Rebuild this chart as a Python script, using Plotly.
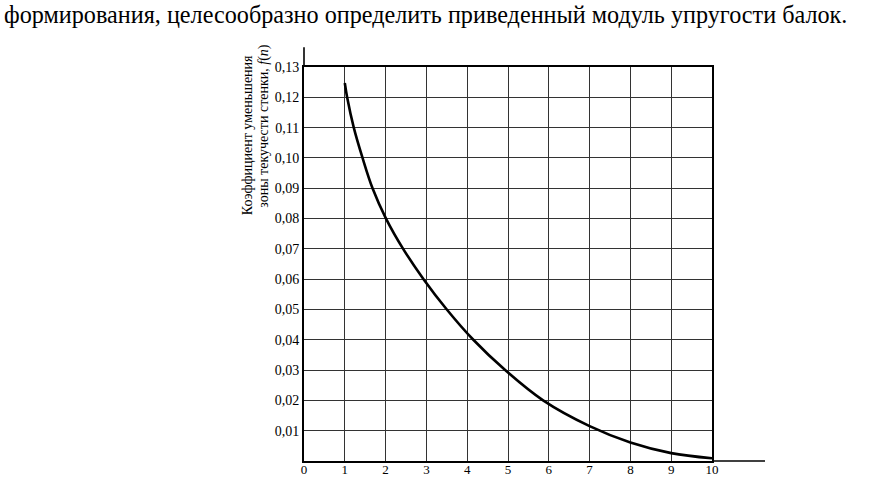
import plotly.graph_objects as go

# curve f(n) (points where it crosses the grid)
n_values = [1.0, 1.057, 1.22, 1.435, 1.68, 2.01, 2.43, 2.93, 3.5, 4.15, 4.93, 5.86, 7.0, 8.0, 9.0, 10.0]
f_values = [0.1247, 0.12, 0.11, 0.10, 0.09, 0.08, 0.07, 0.06, 0.05, 0.04, 0.03, 0.02,
            0.0115, 0.0061, 0.0026, 0.0009]

x_ticks = list(range(0, 11))
y_ticks = [0.01, 0.02, 0.03, 0.04, 0.05, 0.06, 0.07, 0.08, 0.09, 0.10, 0.11, 0.12, 0.13]
y_labels = ["0,01", "0,02", "0,03", "0,04", "0,05", "0,06", "0,07",
            "0,08", "0,09", "0,10", "0,11", "0,12", "0,13"]

header = "формирования, целесообразно определить приведенный модуль упругости балок."

font = "Liberation Serif, Times New Roman, serif"
grid_col = "#333333"

fig = go.Figure()

fig.add_trace(go.Scatter(
    x=n_values, y=f_values,
    mode="lines",
    line=dict(color="black", width=2.6, shape="spline", smoothing=1.0),
    hoverinfo="x+y",
    showlegend=False,
))

fig.update_xaxes(
    range=[0, 10],
    tickvals=x_ticks,
    ticktext=[str(v) for v in x_ticks],
    showgrid=True, gridcolor=grid_col, gridwidth=1.4,
    showline=True, linecolor="black", linewidth=1.8, mirror=True,
    zeroline=False, ticks="", automargin=False, ticklabelstandoff=-5,
    tickfont=dict(family=font, size=13, color="black"),
)
fig.update_yaxes(
    range=[0, 0.13],
    tickvals=y_ticks,
    ticktext=y_labels,
    showgrid=True, gridcolor=grid_col, gridwidth=1.4,
    showline=True, linecolor="black", linewidth=1.8, mirror=True,
    zeroline=False, ticks="", automargin=False,
    tickfont=dict(family=font, size=14, color="black"),
)

# axis extensions beyond the grid box
fig.add_shape(type="line", xref="paper", yref="paper", x0=1, x1=1.13, y0=0, y1=0,
              line=dict(color="black", width=1.4))
fig.add_shape(type="line", xref="paper", yref="paper", x0=0, x1=0, y0=1, y1=1.05,
              line=dict(color="black", width=1.6))

# rotated y-axis title, two lines
fig.add_annotation(
    text="Коэффициент уменьшения",
    xref="paper", yref="paper", x=-0.138, y=0.826,
    xanchor="center", yanchor="middle",
    textangle=-90, showarrow=False,
    font=dict(family=font, size=14, color="black"),
)
fig.add_annotation(
    text="зоны текучести стенки, <i>f</i>(<i>n</i>)",
    xref="paper", yref="paper", x=-0.0998, y=0.8515,
    xanchor="center", yanchor="middle",
    textangle=-90, showarrow=False,
    font=dict(family=font, size=14, color="black"),
)

# line of body text above the chart
fig.add_annotation(
    text=header,
    xref="paper", yref="paper", x=-0.740, y=1.1345,
    xanchor="left", yanchor="middle", showarrow=False,
    font=dict(family=font, size=24.2, color="black"),
)

fig.update_layout(
    width=872, height=477,
    margin=dict(l=304, r=160, t=67, b=16),
    plot_bgcolor="white", paper_bgcolor="white",
)

# drop the default 8px body margin so the figure fills the window
fig.write_html("out.html", config={"displayModeBar": False},
               post_script="document.body.style.margin='0';")
